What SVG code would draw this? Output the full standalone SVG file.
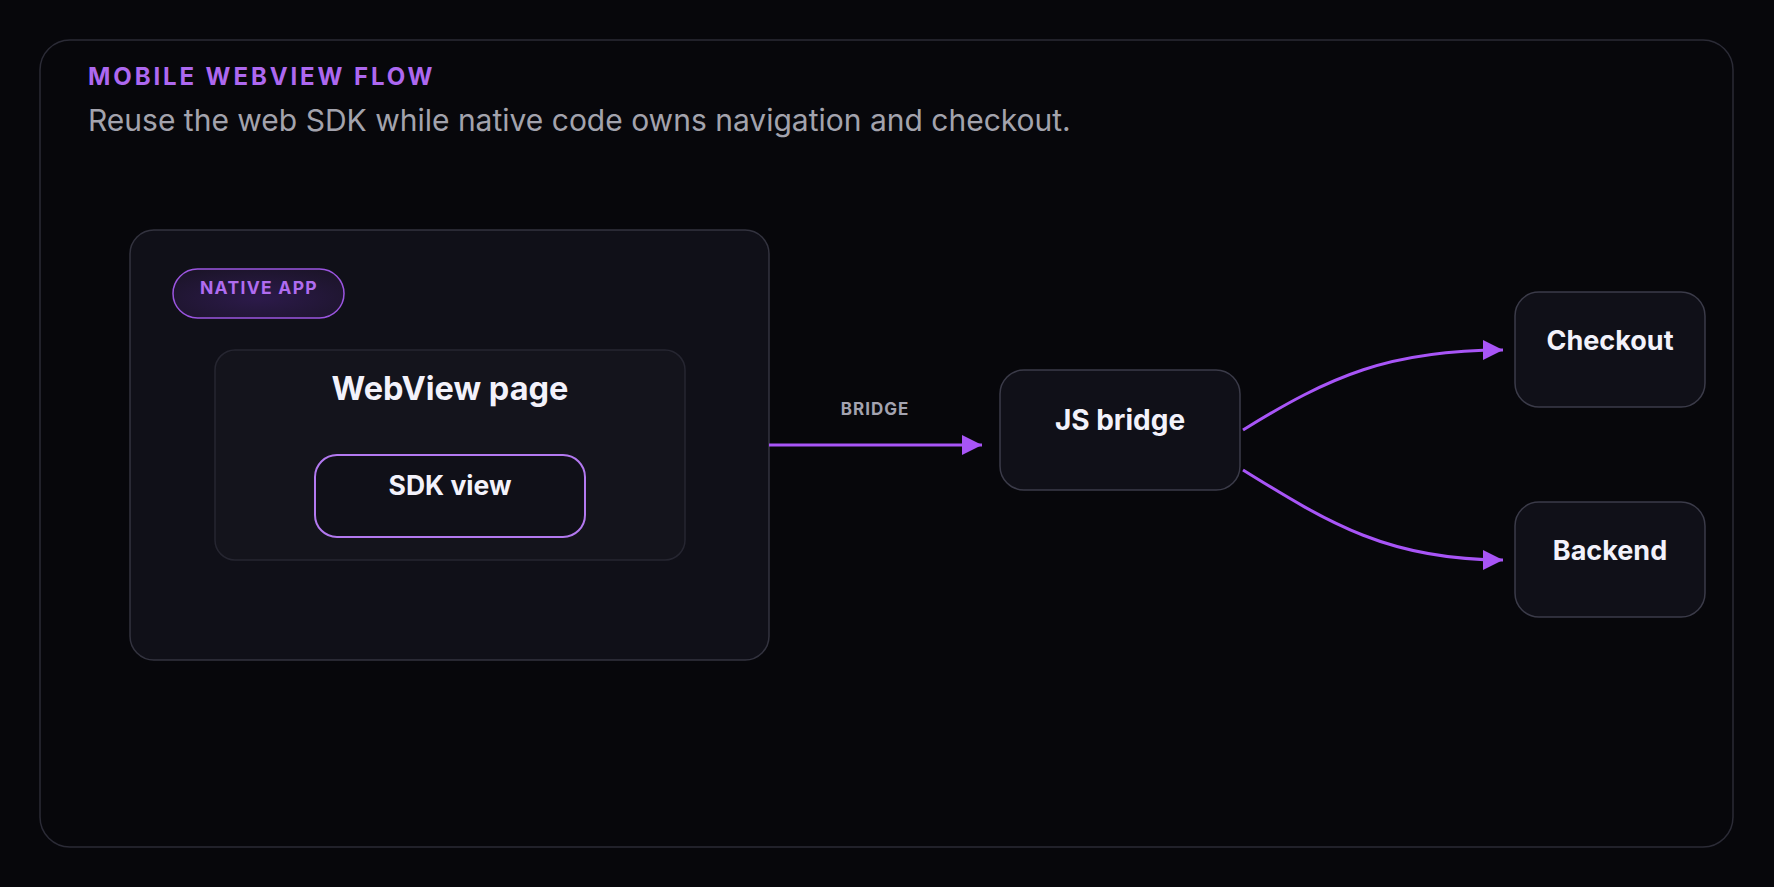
<svg xmlns="http://www.w3.org/2000/svg" width="1774" height="887" viewBox="0 0 1774 887">
  <defs>
    <style>
      .t { font-family: Inter, "Noto Sans", "Liberation Sans", sans-serif; }
      .node { fill: #101018; stroke: #3b3b49; stroke-width: 1.5; }
      .lbl { font-weight: 700; fill: #f3f2fb; text-anchor: middle; }
      .edge { fill: none; stroke: #a855f7; stroke-width: 3; }
    </style>
    <marker id="arr" viewBox="0 0 20 20" refX="20" refY="10" markerWidth="20" markerHeight="20" markerUnits="userSpaceOnUse" orient="auto">
      <path d="M0,0 L20,10 L0,20 Z" fill="#a855f7"/>
    </marker>
    <radialGradient id="pillg" cx="0.5" cy="0.6" r="0.7">
      <stop offset="0" stop-color="#2c1a4a"/>
      <stop offset="1" stop-color="#1b1428"/>
    </radialGradient>
  </defs>
  <rect width="1774" height="887" fill="#07070b"/>
  <g id="frame">
    <rect x="40" y="40" width="1693" height="807" rx="30" fill="#07070b" stroke="#2b2b36" stroke-width="1.5"/>
    <text class="t" x="88" y="85" font-size="24" font-weight="700" letter-spacing="2.9" fill="#ad68f0">MOBILE WEBVIEW FLOW</text>
    <text class="t" x="88" y="131" font-size="30" fill="#a3a3ad">Reuse the web SDK while native code owns navigation and checkout.</text>
  </g>
  <g id="native-app">
    <rect x="130" y="230" width="639" height="430" rx="24" fill="#101018" stroke="#33333f" stroke-width="1.5"/>
    <rect x="173" y="269" width="171" height="49" rx="24.5" fill="url(#pillg)" stroke="#9b55e0" stroke-width="1.5"/>
    <text class="t" x="259" y="294" font-size="17.5" font-weight="700" letter-spacing="1.3" fill="#b06cf0" text-anchor="middle">NATIVE APP</text>
  </g>
  <g id="webview-page">
    <rect x="215" y="350" width="470" height="210" rx="20" fill="#14141c" stroke="#262631" stroke-width="1.5"/>
    <text class="t lbl" x="450" y="400" font-size="32.5">WebView page</text>
  </g>
  <g id="sdk-view">
    <rect x="315" y="455" width="270" height="82" rx="22" fill="#101018" stroke="#b379f0" stroke-width="2"/>
    <text class="t lbl" x="450" y="495" font-size="26.5">SDK view</text>
  </g>
  <g id="js-bridge">
    <rect class="node" x="1000" y="370" width="240" height="120" rx="24"/>
    <text class="t lbl" x="1120" y="430" font-size="28">JS bridge</text>
  </g>
  <g id="checkout">
    <rect class="node" x="1515" y="292" width="190" height="115" rx="24"/>
    <text class="t lbl" x="1610" y="350" font-size="27">Checkout</text>
  </g>
  <g id="backend">
    <rect class="node" x="1515" y="502" width="190" height="115" rx="24"/>
    <text class="t lbl" x="1610" y="560" font-size="27">Backend</text>
  </g>
  <g id="connectors">
    <path class="edge" d="M769,445 L982,445" marker-end="url(#arr)"/>
    <text class="t" x="875" y="415" font-size="17" font-weight="700" letter-spacing="1" fill="#a3a3b0" text-anchor="middle">BRIDGE</text>
    <path class="edge" d="M1243,430 C1330,376 1390,350 1503,350" marker-end="url(#arr)"/>
    <path class="edge" d="M1243,470 C1330,524 1390,560 1503,560" marker-end="url(#arr)"/>
  </g>
</svg>
